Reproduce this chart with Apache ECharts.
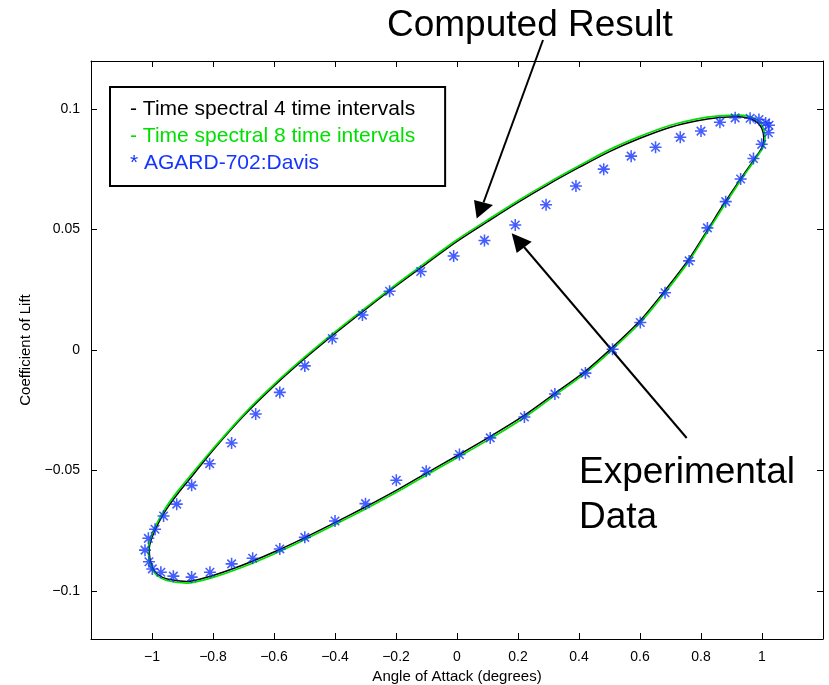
<!DOCTYPE html>
<html>
<head>
<meta charset="utf-8">
<script src="https://cdn.jsdelivr.net/npm/echarts@6/dist/echarts.min.js"></script>
<style>
html, body { margin: 0; padding: 0; background: #fff; }
#main { width: 829px; height: 685px; }
</style>
</head>
<body>
<div id="main"></div>
<script>
// tick labels
var xTicks = [-1, -0.8, -0.6, -0.4, -0.2, 0, 0.2, 0.4, 0.6, 0.8, 1];
var yTicks = [-0.1, -0.05, 0, 0.05, 0.1];

var seriesNames = ['Time spectral 4 time intervals', 'Time spectral 8 time intervals', 'AGARD-702:Davis'];
var legendMarks = ['-', '-', '*'];

// time spectral, 4 intervals (black loop)
var ts4 = [
    [-0.998, -0.0905], [-1.007, -0.0864], [-1.009, -0.0826], [-1.001, -0.0782], [-0.982, -0.0726],
    [-0.952, -0.0660], [-0.912, -0.0591], [-0.867, -0.0521], [-0.800, -0.0416], [-0.700, -0.0274],
    [-0.600, -0.0149], [-0.500, -0.0036], [-0.400, 0.0069], [-0.300, 0.0169], [-0.200, 0.0266],
    [-0.100, 0.0359], [0.000, 0.0451], [0.100, 0.0533], [0.200, 0.0613], [0.300, 0.0688],
    [0.400, 0.0758], [0.500, 0.0824], [0.600, 0.0879], [0.700, 0.0925], [0.784, 0.0951],
    [0.860, 0.0965], [0.922, 0.0968], [0.975, 0.0953], [0.999, 0.0921], [1.006, 0.0878],
    [1.001, 0.0844], [0.982, 0.0805], [0.952, 0.0751], [0.917, 0.0687], [0.872, 0.0601],
    [0.819, 0.0494], [0.759, 0.0375], [0.680, 0.0244], [0.599, 0.0120], [0.508, 0.0009],
    [0.419, -0.0090], [0.319, -0.0182], [0.219, -0.0273], [0.107, -0.0361], [0.006, -0.0435],
    [-0.103, -0.0513], [-0.202, -0.0585], [-0.302, -0.0653], [-0.402, -0.0718], [-0.502, -0.0781],
    [-0.602, -0.0840], [-0.702, -0.0893], [-0.802, -0.0937], [-0.886, -0.0961], [-0.950, -0.0951],
    [-0.983, -0.0930], [-0.998, -0.0905]
];

// time spectral, 8 intervals (green loop)
var ts8 = [
    [-1.001, -0.0909], [-1.010, -0.0866], [-1.012, -0.0826], [-1.004, -0.0780], [-0.985, -0.0722],
    [-0.955, -0.0655], [-0.915, -0.0585], [-0.870, -0.0515], [-0.800, -0.0410], [-0.700, -0.0268],
    [-0.600, -0.0143], [-0.500, -0.0030], [-0.400, 0.0075], [-0.300, 0.0175], [-0.200, 0.0272],
    [-0.100, 0.0366], [0.000, 0.0458], [0.100, 0.0540], [0.200, 0.0620], [0.300, 0.0695],
    [0.400, 0.0765], [0.500, 0.0832], [0.600, 0.0887], [0.700, 0.0933], [0.784, 0.0959],
    [0.860, 0.0972], [0.925, 0.0975], [0.979, 0.0959], [1.003, 0.0925], [1.010, 0.0880],
    [1.005, 0.0845], [0.985, 0.0805], [0.955, 0.0750], [0.920, 0.0685], [0.875, 0.0598],
    [0.821, 0.0490], [0.761, 0.0370], [0.682, 0.0238], [0.601, 0.0114], [0.510, 0.0003],
    [0.421, -0.0096], [0.321, -0.0188], [0.221, -0.0280], [0.109, -0.0368], [0.008, -0.0442],
    [-0.101, -0.0520], [-0.200, -0.0592], [-0.300, -0.0660], [-0.400, -0.0725], [-0.500, -0.0788],
    [-0.600, -0.0847], [-0.700, -0.0900], [-0.800, -0.0944], [-0.886, -0.0968], [-0.952, -0.0957],
    [-0.985, -0.0935], [-1.001, -0.0909]
];

// AGARD-702 experimental points (Davis)
var davis = [
    [-1.023, -0.0831], [-1.012, -0.0782], [-0.990, -0.0744], [-0.962, -0.0689], [-0.919, -0.0640],
    [-0.870, -0.0562], [-0.811, -0.0472], [-0.739, -0.0386], [-0.660, -0.0266], [-0.581, -0.0176],
    [-0.499, -0.0066], [-0.409, 0.0048], [-0.310, 0.0145], [-0.221, 0.0244], [-0.119, 0.0326],
    [-0.011, 0.0390], [0.090, 0.0455], [0.191, 0.0519], [0.292, 0.0603], [0.390, 0.0681],
    [0.481, 0.0751], [0.571, 0.0805], [0.651, 0.0842], [0.732, 0.0883], [0.800, 0.0909],
    [0.862, 0.0946], [0.912, 0.0964], [0.961, 0.0962], [0.990, 0.0957], [1.012, 0.0943],
    [1.023, 0.0933], [1.021, 0.0902], [0.999, 0.0854], [0.972, 0.0795], [0.930, 0.0710],
    [0.881, 0.0616], [0.821, 0.0507], [0.761, 0.0370], [0.682, 0.0238], [0.601, 0.0114],
    [0.510, 0.0003], [0.421, -0.0096], [0.321, -0.0183], [0.221, -0.0278], [0.109, -0.0365],
    [0.008, -0.0434], [-0.101, -0.0503], [-0.199, -0.0541], [-0.300, -0.0638], [-0.400, -0.0710],
    [-0.499, -0.0778], [-0.581, -0.0826], [-0.670, -0.0865], [-0.739, -0.0888], [-0.810, -0.0923],
    [-0.870, -0.0943], [-0.930, -0.0939], [-0.971, -0.0923], [-0.999, -0.0909], [-1.010, -0.0879]
];

var FONT = "'Liberation Sans', Arial, Helvetica, sans-serif";
var GREEN = '#00e000';
var BLUE = '#1535ff';

// matlab style asterisk
var STAR = 'path://M-0.65,-5L0.65,-5L0.65,5L-0.65,5Z' +
    'M-5,-0.65L5,-0.65L5,0.65L-5,0.65Z' +
    'M-3.08,-4L4,3.08L3.08,4L-4,-3.08Z' +
    'M-4,3.08L3.08,-4L4,-3.08L-3.08,4Z';

function minusFmt(v) {
    return String(v).replace('-', '\u2212');
}

var myChart = echarts.init(document.getElementById('main'));

function boxAxis(pos, ticks, isX) {
    return {
        type: 'value',
        position: pos,
        min: isX ? -1.2 : -0.12,
        max: isX ? 1.2 : 0.12,
        axisLine: { show: true, onZero: false, lineStyle: { color: '#000', width: 1 } },
        axisTick: { show: true, inside: true, length: 6, customValues: ticks, lineStyle: { color: '#000' } },
        axisLabel: { show: false },
        splitLine: { show: false }
    };
}

var bottomX = boxAxis('bottom', xTicks, true);
bottomX.axisLabel = {
    show: true, customValues: xTicks, formatter: minusFmt, margin: 11,
    color: '#000', fontSize: 14, fontFamily: FONT
};
bottomX.name = 'Angle of Attack (degrees)';
bottomX.nameLocation = 'middle';
bottomX.nameGap = 29;
bottomX.nameTextStyle = { color: '#000', fontSize: 15, fontFamily: FONT };

var leftY = boxAxis('left', yTicks, false);
leftY.axisLabel = {
    show: true, customValues: yTicks, formatter: minusFmt, margin: 11,
    color: '#000', fontSize: 14, fontFamily: FONT
};
leftY.name = 'Coefficient of Lift';
leftY.nameLocation = 'middle';
leftY.nameGap = 50;
leftY.nameTextStyle = { color: '#000', fontSize: 15, fontFamily: FONT };

myChart.setOption(option = {
    backgroundColor: '#fff',
    animation: false,
    grid: { left: 91, right: 6, top: 61, bottom: 46, outerBoundsMode: 'none' },
    xAxis: [bottomX, boxAxis('top', xTicks, true)],
    yAxis: [leftY, boxAxis('right', yTicks, false)],
    legend: {
        orient: 'vertical',
        left: 110,
        top: 87,
        padding: [12, 30, 12, 14],
        itemGap: 6,
        itemWidth: 0,
        itemHeight: 0,
        backgroundColor: '#fff',
        borderColor: '#000',
        borderWidth: 2,
        selectedMode: false,
        formatter: function (name) {
            return legendMarks[seriesNames.indexOf(name)] + ' ' + name;
        },
        textStyle: { fontSize: 21, fontFamily: FONT },
        data: [
            { name: seriesNames[0], textStyle: { color: '#000' } },
            { name: seriesNames[1], textStyle: { color: GREEN } },
            { name: seriesNames[2], textStyle: { color: BLUE } }
        ]
    },
    series: [{
        name: seriesNames[0],
        type: 'line',
        data: ts4,
        showSymbol: false,
        smooth: 0.3,
        lineStyle: { color: '#000', width: 1.5 },
        itemStyle: { color: '#000' },
        z: 2
    }, {
        name: seriesNames[1],
        type: 'line',
        data: ts8,
        showSymbol: false,
        smooth: 0.3,
        lineStyle: { color: GREEN, width: 1.7 },
        itemStyle: { color: GREEN },
        z: 3
    }, {
        name: seriesNames[2],
        type: 'scatter',
        data: davis,
        symbol: STAR,
        symbolSize: 12,
        itemStyle: { color: BLUE },
        z: 4
    }],
    graphic: [
        { type: 'text', style: { text: 'Computed Result', x: 387, y: 26, font: '37px ' + FONT, fill: '#000', verticalAlign: 'middle' } },
        { type: 'line', shape: { x1: 543, y1: 40, x2: 483.5, y2: 202.5 }, style: { stroke: '#000', lineWidth: 2 } },
        { type: 'polygon', shape: { points: [[476.7, 218.5], [474, 200], [493, 205]] }, style: { fill: '#000' } },
        { type: 'text', style: { text: 'Experimental', x: 579, y: 473, font: '37px ' + FONT, fill: '#000', verticalAlign: 'middle' } },
        { type: 'text', style: { text: 'Data', x: 579, y: 518, font: '37px ' + FONT, fill: '#000', verticalAlign: 'middle' } },
        { type: 'line', shape: { x1: 686.7, y1: 438, x2: 524, y2: 247 }, style: { stroke: '#000', lineWidth: 2 } },
        { type: 'polygon', shape: { points: [[511.7, 233.3], [516.7, 253], [531.7, 241.7]] }, style: { fill: '#000' } }
    ]
});
</script>
</body>
</html>
